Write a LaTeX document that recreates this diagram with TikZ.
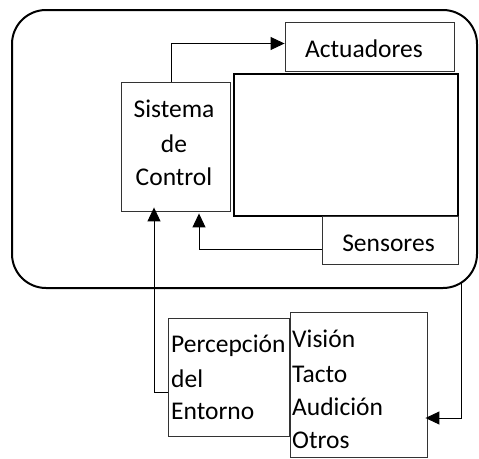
\documentclass[tikz,border=0pt]{standalone}
\usepackage{fontspec}
\setmainfont{Carlito}
\usetikzlibrary{arrows.meta}
\begin{document}
\begin{tikzpicture}[x=1pt,y=-1pt,
  boxshape/.style={draw=black!80, line width=0.9pt, inner sep=0pt, rectangle},
  txt/.style={inner sep=0pt, font=\fontsize{25.5}{30}\selectfont},
  arr/.style={draw=black, line width=1pt, -{Triangle[length=14pt,width=13pt]}}]
\useasboundingbox (0,0) rectangle (479,458);

% system boundary
\node[draw=black, line width=2pt, rounded corners=34pt, inner sep=0pt,
      minimum width=465pt, minimum height=278pt] (outer) at (244.5,149) {};

% blocks
\node[boxshape, minimum width=169pt, minimum height=49pt] (act) at (369.5,46.5) {};
\node[boxshape, minimum width=109pt, minimum height=129pt] (sis) at (175.5,146.5) {};
\node[draw=black, line width=2.5pt, inner sep=0pt,
      minimum width=224pt, minimum height=142pt] (plant) at (346,145) {};
\node[boxshape, minimum width=136pt, minimum height=48pt] (sen) at (390,240) {};
\node[boxshape, minimum width=121pt, minimum height=118pt] (per) at (228.5,377) {};
\node[boxshape, fill=white, minimum width=137pt, minimum height=145pt] (vis) at (358.5,384.5) {};

% labels
\node[txt, anchor=base] (tact) at (364,57) {Actuadores};
\node[txt, anchor=base] (tsis1) at (174,117) {Sistema};
\node[txt, anchor=base] (tsis2) at (174,152) {de};
\node[txt, anchor=base] (tsis3) at (174,185) {Control};
\node[txt, anchor=base] (tsen) at (388.5,251) {Sensores};
\node[txt, anchor=base west] (tper1) at (171,352) {Percepción};
\node[txt, anchor=base west] (tper2) at (171,387) {del};
\node[txt, anchor=base west] (tper3) at (171,419) {Entorno};
\node[txt, anchor=base west] (tvis1) at (292,347) {Visión};
\node[txt, anchor=base west] (tvis2) at (292,382) {Tacto};
\node[txt, anchor=base west] (tvis3) at (292,415) {Audición};
\node[txt, anchor=base west] (tvis4) at (292,448) {Otros};

% connectors
\draw[arr] ([xshift=-4.5pt]sis.north) |- ([yshift=3pt]act.west);
\draw[arr] ([yshift=-9pt]sen.west) -| ([xshift=23.5pt,yshift=-2pt]sis.south);
\draw[arr] ([yshift=-15pt]per.west) -| ([xshift=-21.5pt,yshift=4pt]sis.south);
\coordinate (tap) at (461,282);
\draw[arr] (tap) |- ([xshift=-2pt,yshift=-33.5pt]vis.east);
\end{tikzpicture}
\end{document}
